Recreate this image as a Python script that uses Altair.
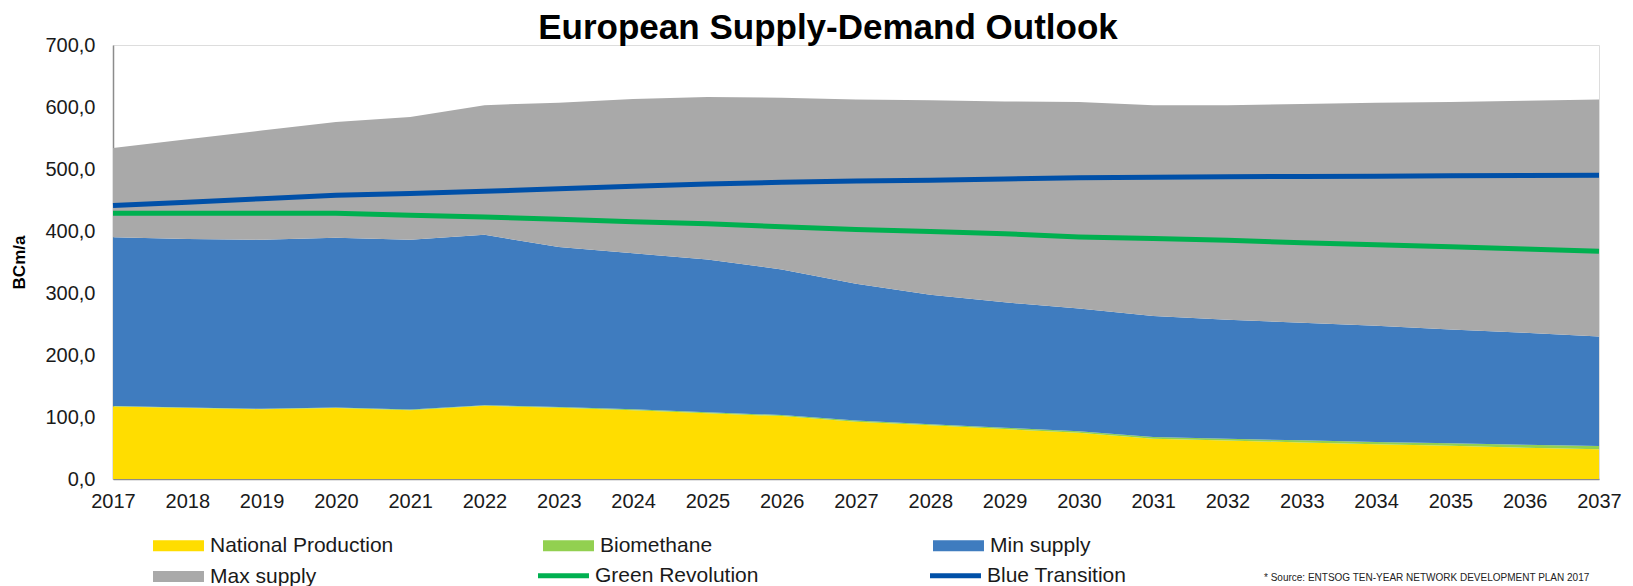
import altair as alt
import pandas as pd

years = list(range(2017, 2038))
national_production = [117, 114.5, 112.5, 114.5, 111, 118, 115, 111, 106, 101.5, 92.5,
                       86.5, 80.5, 74.5, 65, 62, 59, 56, 53.5, 50.5, 48]
biomethane = [0.6, 0.7, 0.8, 0.9, 1.0, 1.1, 1.2, 1.3, 1.5, 1.6, 1.8,
              2.0, 2.2, 2.4, 2.7, 3.0, 3.3, 3.7, 4.2, 4.8, 5.4]
min_supply = [390, 387, 386, 389, 386, 394, 374, 364, 354, 338, 315,
              297, 285, 275, 263, 257, 252, 247, 241, 236, 230]
max_supply = [534, 548, 562, 576, 584, 603, 607, 613, 616, 615, 612,
              611, 609, 608, 603, 603, 605, 607, 608, 610, 612]
green_revolution = [428.5, 428.5, 428.5, 428.5, 425.5, 422.5, 419, 415, 411.5, 407, 402.5,
                    399, 395.5, 390.5, 388, 385, 381, 378, 374.5, 371, 367.5]
blue_transition = [441, 446.5, 452, 457.5, 460.5, 464, 468, 472, 476, 478.5, 480.5,
                   482, 484, 486, 486.5, 487.5, 488, 488.5, 489, 489.5, 490]

area_names = ["National Production", "Biomethane", "Min supply", "Max supply"]
area_colors = ["#FFDD00", "#92D050", "#3F7CBF", "#A9A9A9"]
line_names = ["Green Revolution", "Blue Transition"]
line_colors = ["#00B050", "#0050A8"]
y_ticks = [0, 100, 200, 300, 400, 500, 600, 700]
title_text = "European Supply-Demand Outlook"
source_text = "* Source:  ENTSOG TEN-YEAR NETWORK DEVELOPMENT PLAN 2017"

FONT = "Liberation Sans"

rows = []
for i, yr in enumerate(years):
    np_top = national_production[i]
    bio_top = np_top + biomethane[i]
    rows.append({"year": yr, "series": "National Production", "lo": 0, "hi": np_top})
    rows.append({"year": yr, "series": "Biomethane", "lo": np_top, "hi": bio_top})
    rows.append({"year": yr, "series": "Min supply", "lo": bio_top, "hi": min_supply[i]})
    rows.append({"year": yr, "series": "Max supply", "lo": min_supply[i], "hi": max_supply[i]})
areas_df = pd.DataFrame(rows)

lrows = []
for i, yr in enumerate(years):
    lrows.append({"year": yr, "series": "Green Revolution", "value": green_revolution[i]})
    lrows.append({"year": yr, "series": "Blue Transition", "value": blue_transition[i]})
lines_df = pd.DataFrame(lrows)

W, H = 1486, 434

x_enc = alt.X(
    "year:Q",
    title=None,
    scale=alt.Scale(domain=[2017, 2037], nice=False, zero=False),
    axis=alt.Axis(values=years, format="d", labelFlush=False, ticks=False, tickSize=0,
                  grid=False, domainColor="#8c8c8c", domainWidth=1.5,
                  labelFontSize=20, labelFont=FONT, labelColor="#1a1a1a",
                  labelPadding=12, labelOverlap=False),
)

y_axis = alt.Axis(values=y_ticks, labelExpr="replace(format(datum.value, '.1f'), '.', ',')",
                  ticks=False, tickSize=0, grid=False, domainColor="#8c8c8c", domainWidth=1.5,
                  labelFontSize=20, labelFont=FONT, labelColor="#1a1a1a", labelPadding=18,
                  title="BCm/a", titleFont=FONT, titleFontSize=17, titleFontWeight="bold",
                  titleColor="black", titlePadding=16)
y_scale = alt.Scale(domain=[0, 700], nice=False)

# symbol paths: small nominal size so rows stay compact, path drawn wide to the right
RECT_PATH = "M-1,-1H8.27V1H-1Z"
LINE_PATH = "M-1,0H8.27"

areas = alt.Chart(areas_df).mark_area(interpolate="linear", opacity=1, strokeWidth=0).encode(
    x=x_enc,
    y=alt.Y("lo:Q", scale=y_scale, axis=y_axis, title="BCm/a"),
    y2="hi:Q",
    fill=alt.Fill("series:N", scale=alt.Scale(domain=area_names, range=area_colors),
                  legend=alt.Legend(orient="none", legendX=35, legendY=490,
                                    direction="horizontal", columns=3, gridAlign="all",
                                    columnPadding=144, rowPadding=9, title=None,
                                    symbolType=RECT_PATH, symbolSize=121,
                                    symbolStrokeWidth=0, symbolOpacity=1,
                                    labelFontSize=21, labelFont=FONT, labelColor="#1a1a1a",
                                    labelOffset=41, labelLimit=400)),
)

lines = alt.Chart(lines_df).mark_line(strokeWidth=5, strokeCap="butt").encode(
    x=x_enc,
    y=alt.Y("value:Q", scale=y_scale, axis=y_axis, title="BCm/a"),
    stroke=alt.Stroke("series:N", scale=alt.Scale(domain=line_names, range=line_colors),
                      legend=alt.Legend(orient="none", legendX=420, legendY=520,
                                        direction="horizontal", columns=2,
                                        columnPadding=161, title=None,
                                        symbolType=LINE_PATH, symbolSize=121,
                                        symbolStrokeWidth=5,
                                        labelFontSize=21, labelFont=FONT, labelColor="#1a1a1a",
                                        labelOffset=41, labelLimit=400)),
)

source = alt.Chart(pd.DataFrame({"t": [source_text]})).mark_text(
    align="left", baseline="middle", fontSize=10, font=FONT, color="#222222"
).encode(x=alt.value(1151), y=alt.value(533), text="t:N")

chart = alt.layer(areas, lines, source).resolve_scale(
    fill="independent", stroke="independent"
).properties(
    width=W, height=H,
    title=alt.TitleParams(title_text, fontSize=35, font=FONT, fontWeight="bold",
                          anchor="middle", dx=-28, offset=-11, color="black"),
    padding={"left": 2, "top": 3, "right": 0, "bottom": 0},
).configure_view(stroke=None).configure(font=FONT)

chart.save("out.html", embed_options={"renderer": "svg", "actions": False})
